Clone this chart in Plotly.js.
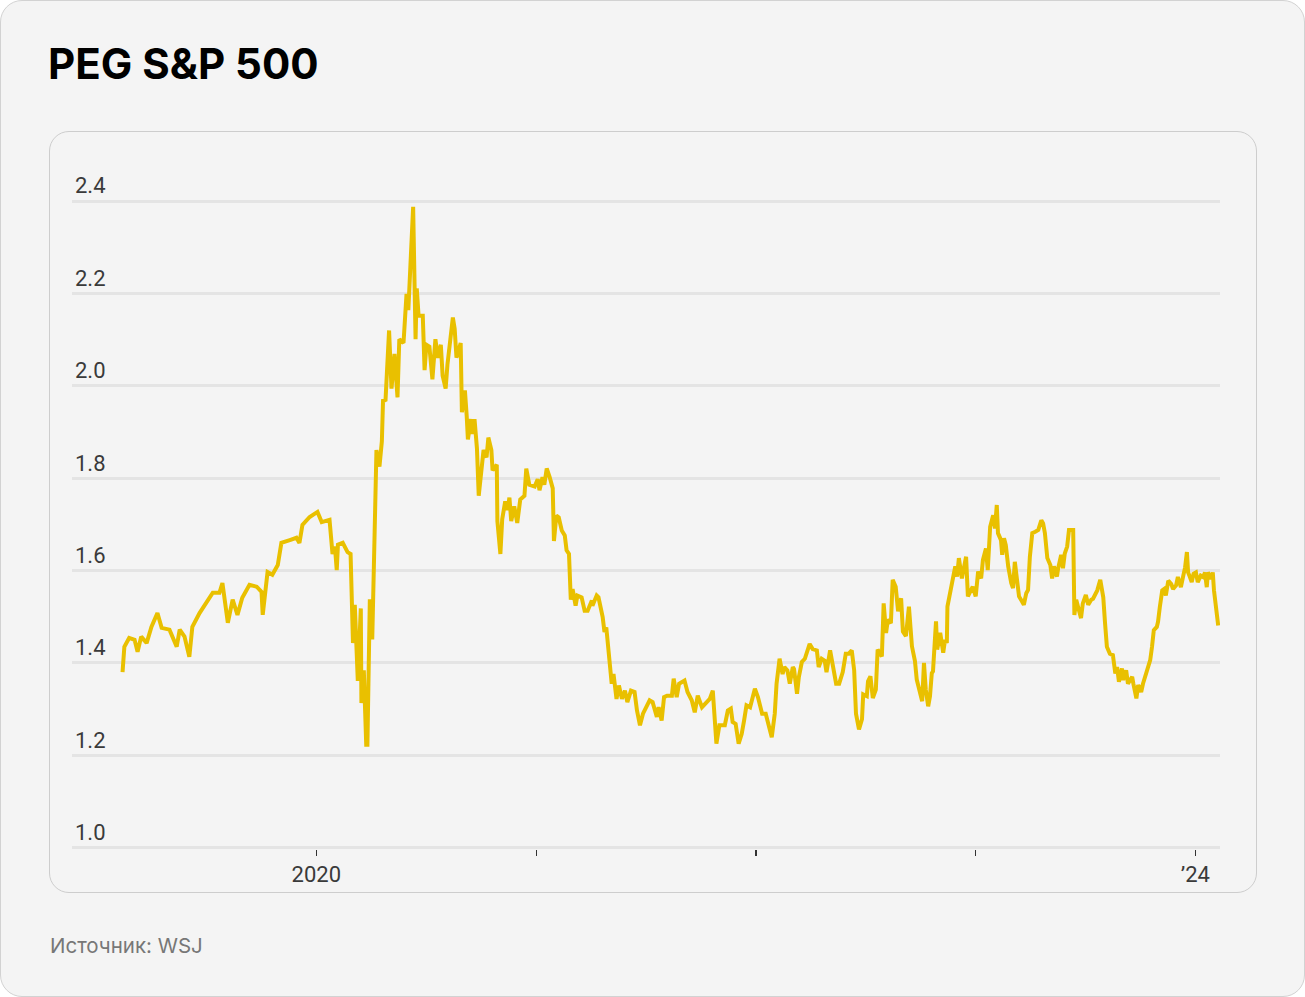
<!DOCTYPE html>
<html>
<head>
<meta charset="utf-8">
<script src="https://cdn.plot.ly/plotly-3.0.1.min.js"></script>
<style>
  html, body { margin:0; padding:0; background:#ffffff; }
  #card { position:absolute; left:0; top:0; width:1303px; height:995px; border:1px solid #d2d2d2; border-radius:22px; background:#f4f4f4; }
  #panel { position:absolute; left:49px; top:131px; width:1206px; height:760px; border:1px solid #cdcdcd; border-radius:20px; }
  #chart { position:absolute; left:0; top:0; width:1305px; height:997px; }
</style>
</head>
<body>
<div id="card"></div>
<div id="panel"></div>
<div id="chart"></div>
<script>
// ---- data ----
const titleText = 'PEG S&P 500';
const sourceText = 'Источник: WSJ';

const dates = [
'2019-02-13','2019-02-16','2019-02-24','2019-03-05','2019-03-10','2019-03-16','2019-03-25','2019-04-02','2019-04-12','2019-04-19',
'2019-05-02','2019-05-14','2019-05-19','2019-05-27','2019-06-04','2019-06-09','2019-06-21','2019-07-03','2019-07-13','2019-07-24',
'2019-07-29','2019-08-07','2019-08-15','2019-08-23','2019-08-31','2019-09-12','2019-09-24','2019-10-02','2019-10-04','2019-10-12',
'2019-10-20','2019-10-29','2019-11-04','2019-11-18','2019-11-29','2019-12-04','2019-12-09','2019-12-21','2020-01-03','2020-01-10',
'2020-01-23','2020-01-28','2020-02-01','2020-02-04','2020-02-06','2020-02-14','2020-02-22','2020-02-27','2020-03-02','2020-03-05',
'2020-03-10','2020-03-15','2020-03-16','2020-03-20','2020-03-24','2020-03-26','2020-03-30','2020-04-03','2020-04-05','2020-04-07',
'2020-04-10','2020-04-15','2020-04-19','2020-04-21','2020-04-25','2020-04-27','2020-05-01','2020-05-05','2020-05-10','2020-05-15',
'2020-05-18','2020-05-25','2020-05-30','2020-06-02','2020-06-05','2020-06-09','2020-06-10','2020-06-14','2020-06-16','2020-06-19',
'2020-06-26','2020-06-29','2020-07-02','2020-07-07','2020-07-12','2020-07-17','2020-07-21','2020-07-26','2020-07-29','2020-08-03',
'2020-08-06','2020-08-15','2020-08-18','2020-08-21','2020-08-28','2020-08-30','2020-09-04','2020-09-07','2020-09-09','2020-09-14',
'2020-09-17','2020-09-20','2020-09-24','2020-09-27','2020-10-02','2020-10-05','2020-10-10','2020-10-13','2020-10-18','2020-10-20',
'2020-10-27','2020-10-28','2020-11-02','2020-11-05','2020-11-10','2020-11-14','2020-11-17','2020-11-20','2020-11-25','2020-11-30',
'2020-12-05','2020-12-12','2020-12-15','2020-12-20','2020-12-29','2021-01-03','2021-01-06','2021-01-11','2021-01-14','2021-01-18',
'2021-01-23','2021-01-28','2021-01-30','2021-02-03','2021-02-07','2021-02-12','2021-02-17','2021-02-20','2021-02-24','2021-02-27',
'2021-03-02','2021-03-07','2021-03-10','2021-03-17','2021-03-22','2021-03-27','2021-04-03','2021-04-04','2021-04-11','2021-04-14',
'2021-04-21','2021-04-24','2021-04-27','2021-05-03','2021-05-06','2021-05-09','2021-05-14','2021-05-18','2021-05-23','2021-05-28',
'2021-06-01','2021-06-07','2021-06-13','2021-06-17','2021-06-22','2021-06-27','2021-07-03','2021-07-08','2021-07-13','2021-07-20',
'2021-07-23','2021-07-28','2021-08-01','2021-08-06','2021-08-14','2021-08-17','2021-08-22','2021-08-26','2021-09-04','2021-09-09',
'2021-09-16','2021-09-21','2021-09-26','2021-10-03','2021-10-11','2021-10-16','2021-10-21','2021-10-24','2021-10-27','2021-11-01',
'2021-11-10','2021-11-15','2021-11-20','2021-11-23','2021-11-28','2021-12-03','2021-12-08','2021-12-12','2021-12-16','2021-12-22',
'2021-12-30','2022-01-04','2022-01-11','2022-01-17','2022-01-22','2022-01-27','2022-02-01','2022-02-04','2022-02-09','2022-02-14',
'2022-02-17','2022-02-22','2022-02-26','2022-03-03','2022-03-05','2022-03-10','2022-03-13','2022-03-18','2022-03-23','2022-03-26',
'2022-03-31','2022-04-05','2022-04-12','2022-04-15','2022-04-20','2022-04-25','2022-04-28','2022-05-04','2022-05-09','2022-05-14',
'2022-05-19','2022-05-25','2022-05-30','2022-06-04','2022-06-09','2022-06-13','2022-06-16','2022-06-21','2022-06-26','2022-06-28',
'2022-07-04','2022-07-06','2022-07-10','2022-07-14','2022-07-19','2022-07-22','2022-07-29','2022-08-01','2022-08-05','2022-08-08',
'2022-08-13','2022-08-16','2022-08-21','2022-08-25','2022-08-30','2022-09-02','2022-09-07','2022-09-12','2022-09-17','2022-09-22',
'2022-09-25','2022-09-28','2022-10-04','2022-10-07','2022-10-10','2022-10-14','2022-10-17','2022-10-20','2022-10-22','2022-10-27',
'2022-10-29','2022-11-03','2022-11-08','2022-11-11','2022-11-14','2022-11-15','2022-11-19','2022-11-24','2022-11-28','2022-12-01',
'2022-12-04','2022-12-09','2022-12-12','2022-12-16','2022-12-19','2022-12-24','2022-12-27','2023-01-01','2023-01-05','2023-01-10',
'2023-01-13','2023-01-18','2023-01-21','2023-01-25','2023-01-30','2023-02-02','2023-02-05','2023-02-07','2023-02-12','2023-02-14',
'2023-02-17','2023-02-20','2023-02-24','2023-03-01','2023-03-04','2023-03-07','2023-03-11','2023-03-14','2023-03-19','2023-03-22',
'2023-03-26','2023-03-29','2023-04-01','2023-04-05','2023-04-10','2023-04-15','2023-04-20','2023-04-23','2023-04-26','2023-04-30',
'2023-05-05','2023-05-08','2023-05-11','2023-05-16','2023-05-18','2023-05-23','2023-05-26','2023-05-29','2023-06-02','2023-06-05',
'2023-06-12','2023-06-14','2023-06-17','2023-06-20','2023-06-25','2023-06-28','2023-07-03','2023-07-07','2023-07-12','2023-07-15',
'2023-07-22','2023-07-27','2023-08-01','2023-08-04','2023-08-07','2023-08-12','2023-08-17','2023-08-21','2023-08-24','2023-08-27',
'2023-09-01','2023-09-03','2023-09-08','2023-09-11','2023-09-18','2023-09-20','2023-09-25','2023-09-28','2023-10-03','2023-10-06',
'2023-10-11','2023-10-14','2023-10-18','2023-10-21','2023-10-24','2023-10-29','2023-10-31','2023-11-03','2023-11-07','2023-11-10',
'2023-11-13','2023-11-17','2023-11-22','2023-11-25','2023-11-30','2023-12-03','2023-12-08','2023-12-12','2023-12-15','2023-12-18',
'2023-12-20','2023-12-23','2023-12-26','2023-12-29','2024-01-02','2024-01-05','2024-01-10','2024-01-14','2024-01-17','2024-01-20',
'2024-01-22','2024-01-27','2024-01-30','2024-02-01','2024-02-04','2024-02-08'
];

const peg = [
1.380,1.435,1.454,1.450,1.424,1.457,1.443,1.478,1.508,1.476,
1.472,1.435,1.472,1.457,1.413,1.478,1.508,1.530,1.552,1.552,
1.573,1.487,1.537,1.504,1.541,1.569,1.565,1.554,1.504,1.597,
1.591,1.612,1.660,1.666,1.671,1.660,1.699,1.716,1.727,1.705,
1.710,1.636,1.652,1.601,1.656,1.660,1.640,1.636,1.443,1.526,
1.361,1.518,1.313,1.384,1.223,1.223,1.538,1.451,1.538,1.683,
1.861,1.825,1.880,1.971,1.967,2.014,2.120,1.994,2.069,1.975,
2.101,2.093,2.199,2.164,2.266,2.388,2.388,2.101,2.211,2.152,
2.152,2.034,2.089,2.085,2.014,2.101,2.061,2.089,2.022,1.994,
2.046,2.148,2.124,2.061,2.093,1.943,1.990,1.935,1.884,1.928,
1.896,1.928,1.865,1.762,1.817,1.861,1.845,1.888,1.861,1.817,
1.829,1.707,1.636,1.711,1.750,1.731,1.758,1.707,1.739,1.703,
1.754,1.762,1.821,1.786,1.782,1.798,1.774,1.802,1.786,1.821,
1.802,1.778,1.664,1.719,1.715,1.687,1.676,1.644,1.636,1.537,
1.560,1.524,1.546,1.542,1.513,1.513,1.535,1.524,1.546,1.542,
1.499,1.467,1.477,1.387,1.355,1.376,1.322,1.351,1.322,1.340,
1.315,1.340,1.337,1.297,1.265,1.290,1.304,1.319,1.315,1.283,
1.304,1.275,1.326,1.329,1.329,1.366,1.326,1.355,1.362,1.337,
1.319,1.293,1.329,1.304,1.315,1.322,1.340,1.268,1.225,1.265,
1.265,1.297,1.301,1.272,1.268,1.225,1.246,1.275,1.308,1.304,
1.344,1.326,1.290,1.290,1.268,1.239,1.290,1.355,1.409,1.376,
1.391,1.384,1.355,1.391,1.387,1.333,1.369,1.402,1.409,1.420,
1.441,1.430,1.427,1.391,1.409,1.405,1.380,1.427,1.394,1.355,
1.355,1.380,1.420,1.420,1.427,1.384,1.290,1.256,1.278,1.332,
1.328,1.360,1.371,1.324,1.342,1.429,1.414,1.529,1.465,1.494,
1.486,1.580,1.565,1.512,1.540,1.468,1.458,1.522,1.436,1.404,
1.364,1.350,1.317,1.400,1.342,1.306,1.328,1.378,1.382,1.490,
1.429,1.465,1.422,1.450,1.443,1.522,1.547,1.587,1.609,1.587,
1.627,1.583,1.601,1.630,1.544,1.558,1.565,1.544,1.598,1.583,
1.623,1.648,1.601,1.695,1.720,1.691,1.742,1.681,1.666,1.634,
1.670,1.655,1.609,1.573,1.562,1.619,1.573,1.544,1.533,1.526,
1.551,1.558,1.630,1.681,1.684,1.688,1.709,1.702,1.681,1.627,
1.612,1.583,1.609,1.587,1.605,1.634,1.605,1.637,1.652,1.688,
1.688,1.504,1.537,1.519,1.497,1.529,1.547,1.526,1.537,1.539,
1.557,1.580,1.542,1.485,1.435,1.420,1.417,1.377,1.391,1.359,
1.388,1.363,1.384,1.355,1.370,1.355,1.323,1.352,1.337,1.355,
1.377,1.388,1.406,1.435,1.471,1.478,1.489,1.521,1.557,1.560,
1.546,1.578,1.571,1.560,1.568,1.586,1.564,1.589,1.607,1.640,
1.596,1.586,1.575,1.593,1.596,1.575,1.589,1.586,1.596,1.564,
1.596,1.582,1.596,1.557,1.521,1.481
];

const xTickVals = ['2020-01-01','2021-01-01','2022-01-01','2023-01-01','2024-01-01'];
const xTickText = ['2020','','','','\u201924'];
const yTickVals = [1.0, 1.2, 1.4, 1.6, 1.8, 2.0, 2.2, 2.4];
const yTickText = ['1.0','1.2','1.4','1.6','1.8','2.0','2.2','2.4'];

// ---- chart ----
const labelFont = {family: 'Roboto, sans-serif', size: 22, color: '#3a3a3a'};

const trace = {
  x: dates, y: peg, type: 'scatter', mode: 'lines',
  line: {color: '#E9C000', width: 4, shape: 'linear'},
  hoverinfo: 'skip'
};

const layout = {
  width: 1305, height: 997,
  paper_bgcolor: 'rgba(0,0,0,0)', plot_bgcolor: 'rgba(0,0,0,0)',
  margin: {l: 72, r: 85, t: 155, b: 148},
  showlegend: false,
  title: {
    text: titleText, xref: 'container', yref: 'container',
    x: 48/1305, xanchor: 'left', y: 1 - 64/997, yanchor: 'middle',
    font: {family: 'Inter, sans-serif', size: 42, color: '#000', weight: 700}
  },
  xaxis: {
    type: 'date', range: ['2018-11-21', '2024-02-11'],
    tickmode: 'array', tickvals: xTickVals, ticktext: xTickText,
    ticks: 'outside', ticklen: 6, tickwidth: 1.5, tickcolor: '#333',
    showgrid: false, zeroline: false, showline: false,
    tickfont: labelFont, fixedrange: true
  },
  yaxis: {
    range: [0.997, 2.5],
    tickmode: 'array', tickvals: yTickVals, ticktext: yTickText,
    ticks: '', ticklabelposition: 'inside top',
    showgrid: true, gridcolor: '#e4e4e4', gridwidth: 3,
    zeroline: false, showline: false,
    tickfont: labelFont, fixedrange: true
  },
  annotations: [{
    text: sourceText, xref: 'paper', yref: 'paper',
    x: (48 - 72) / 1148, xanchor: 'left', y: (849 - 945) / 694, yanchor: 'middle',
    showarrow: false, font: {family: 'Inter, sans-serif', size: 20.5, color: '#777'}
  }]
};

Plotly.newPlot('chart', [trace], layout, {staticPlot: true, displayModeBar: false});
</script>
</body>
</html>
